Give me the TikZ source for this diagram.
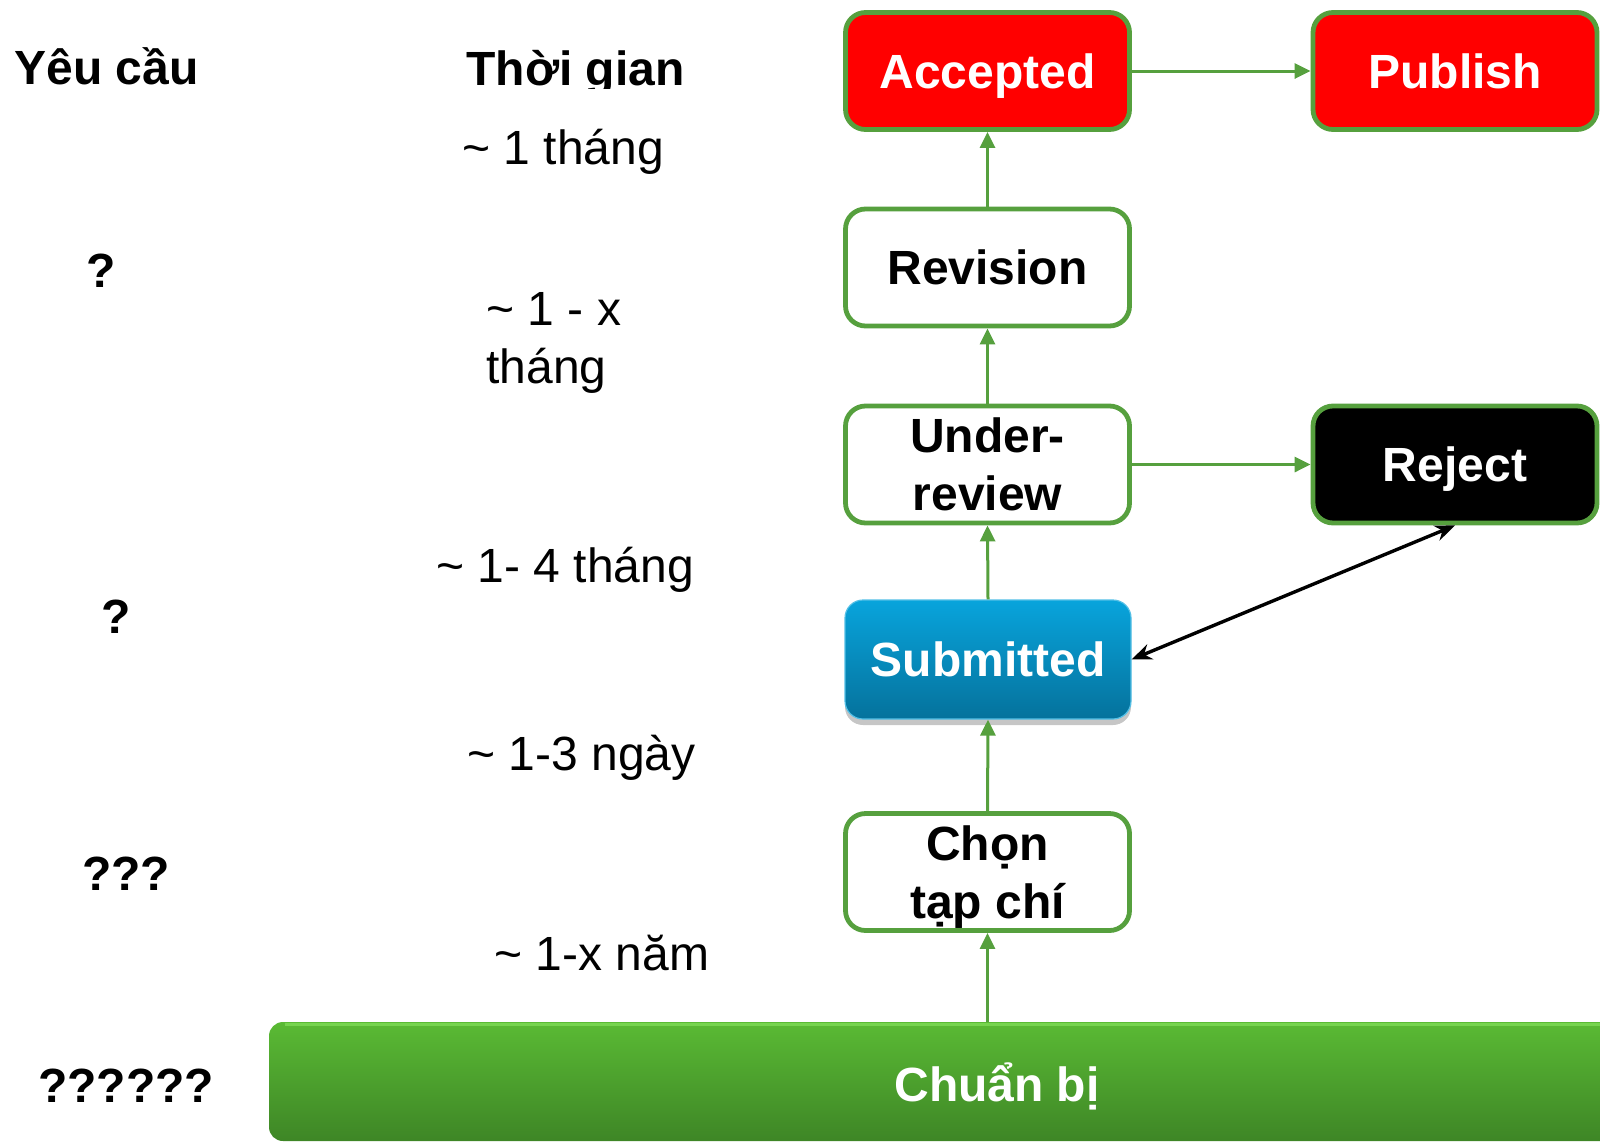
\documentclass[tikz,border=0pt]{standalone}
\usepackage{fontspec}
\setmainfont{Liberation Sans}
\usetikzlibrary{arrows.meta,shadows}
\definecolor{boxgreen}{RGB}{86,160,62}
\definecolor{accred}{RGB}{255,0,0}
\definecolor{subtop}{RGB}{8,164,220}
\definecolor{subbot}{RGB}{5,114,156}
\definecolor{bartop}{RGB}{90,186,52}
\definecolor{barbot}{RGB}{62,134,38}
\definecolor{barhi}{RGB}{118,212,78}
\newcommand{\nodesc}[1]{\raisebox{0pt}[\height][0pt]{#1}}
\tikzset{
  txt/.style={font=\fontsize{24}{29}\selectfont, inner sep=0pt, anchor=base west},
  head/.style={txt, font=\fontsize{24}{29}\selectfont\bfseries},
  qmark/.style={font=\fontsize{24}{29}\selectfont\bfseries, inner sep=0pt, anchor=base},
  stagebox/.style={rectangle, rounded corners=10pt, draw=boxgreen, line width=2.4pt,
    minimum width=142pt, minimum height=58.5pt, align=center, inner sep=0pt,
    font=\fontsize{24}{29}\selectfont\bfseries},
  oneline/.style={text height=17.4pt, text depth=0pt},
  flow/.style={draw=boxgreen, line width=1.5pt, -{Triangle[length=8pt,width=7.5pt]}},
  back/.style={draw=black, line width=1.7pt, {Stealth[length=10pt,width=8pt]}-{Stealth[length=10pt,width=8pt]}}
}
\begin{document}
\begin{tikzpicture}[x=0.5pt,y=-0.5pt]
\useasboundingbox (0,0) rectangle (1600,1141);

% column headings
\node[head] (hreq) at (14,84) {Yêu cầu};
\begin{scope}
  \clip (440,0) rectangle (720,88);
  \node[head] (htime) at (466,85) {Thời gian};
\end{scope}

% requirement marks
\node[qmark] (q1) at (101,287) {?};
\node[qmark] (q2) at (116,633) {?};
\node[qmark] (q3) at (126,890) {???};
\node[qmark] (q4) at (126,1102) {??????};

% durations
\node[txt] (t1) at (462,164) {\textasciitilde\ 1 tháng};
\node[txt] (t2a) at (486,325) {\textasciitilde\ 1 - x};
\node[txt] (t2b) at (486,383) {tháng};
\node[txt] (t3) at (436,582) {\textasciitilde\ 1- 4 tháng};
\node[txt] (t4) at (467,770) {\textasciitilde\ 1-3 ngày};
\node[txt] (t5) at (494,970) {\textasciitilde\ 1-x năm};

% preparation bar
\begin{scope}
  \clip (0,0) rectangle (1600,1141);
  \node[rectangle, rounded corners=7pt, minimum width=728pt, minimum height=59.5pt,
        top color=bartop, bottom color=barbot, inner sep=0pt] (prep) at (997,1081.5) {};
  \draw[barhi, line width=1.2pt] ([xshift=8pt,yshift=-1.5pt]prep.north west) -- ([yshift=-1.5pt]prep.north east);
  \node[font=\fontsize{24}{29}\selectfont\bfseries, text=white, anchor=base] (preptxt) at (997,1101) {Chuẩn bị};
\end{scope}

% stages
\node[stagebox] (chon) at (987.5,872) {Chọn\\\nodesc{tạp chí}};
\node[rectangle, rounded corners=9pt, minimum width=143pt, minimum height=59.5pt,
      top color=subtop, bottom color=subbot, draw=subtop!70!white, line width=0.6pt,
      drop shadow={opacity=0.45, shadow xshift=0pt, shadow yshift=-3pt},
      text=white, font=\fontsize{24}{29}\selectfont\bfseries, inner sep=0pt, oneline] (sub) at (988,659.5) {Submitted};
\node[stagebox] (under) at (987.5,464.5) {Under-\\review};
\node[stagebox, oneline] (rev) at (987.5,267.5) {Revision};
\node[stagebox, oneline, fill=accred, text=white] (acc) at (987.5,71) {Accepted};
\node[stagebox, oneline, fill=accred, text=white] (pub) at (1455,71) {Publish};
\node[stagebox, oneline, fill=black, text=white] (rej) at (1455,464.5) {Reject};

% transitions
\draw[flow] (prep.north -| chon.south) -- (chon.south);
\draw[flow] (chon.north) -- (sub.south);
\draw[flow] (sub.north) -- (under.south);
\draw[flow] (under.north) -- (rev.south);
\draw[flow] (rev.north) -- (acc.south);
\draw[flow] (acc.east) -- (pub.west);
\draw[flow] (under.east) -- (rej.west);
\draw[back] (sub.east) -- (rej.south);
\end{tikzpicture}
\end{document}
